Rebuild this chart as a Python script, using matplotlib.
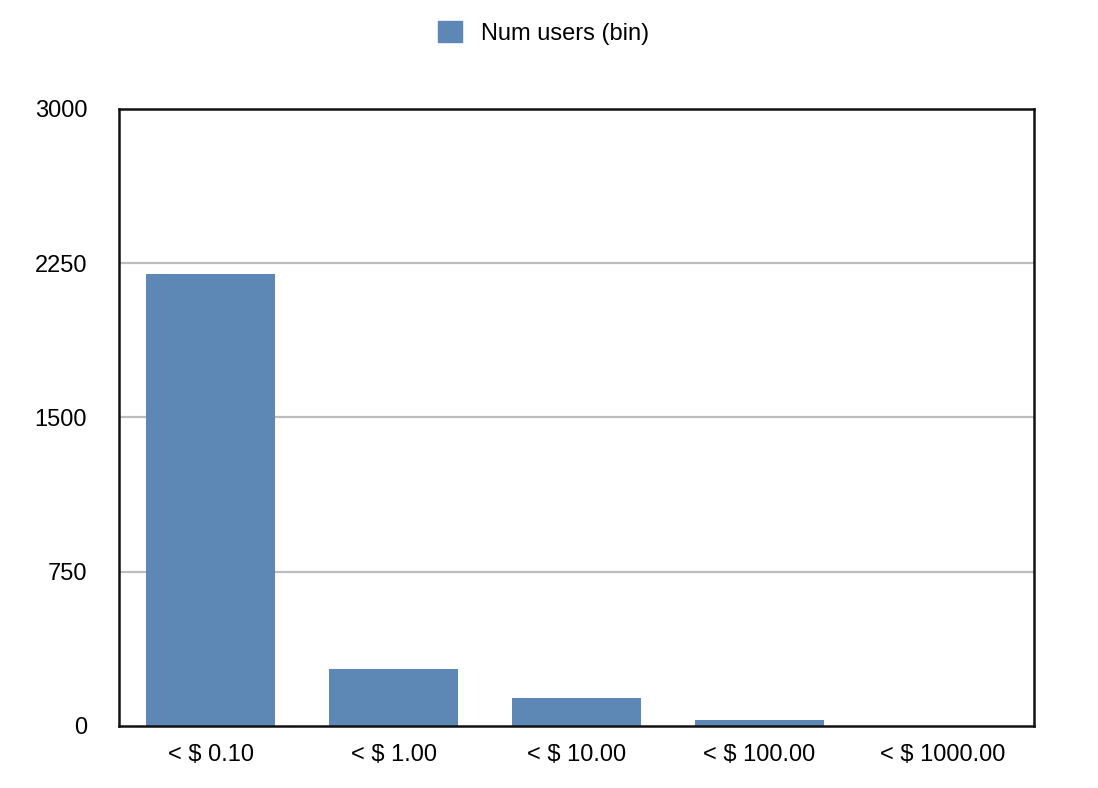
import matplotlib
matplotlib.use("Agg")
import matplotlib.pyplot as plt
from matplotlib.patches import Patch

# data
categories = ["< $ 0.10", "< $ 1.00", "< $ 10.00", "< $ 100.00", "< $ 1000.00"]
num_users = [2200, 276, 135, 28, 0]
y_ticks = [0, 750, 1500, 2250, 3000]

bar_color = "#5d87b4"

plt.rcParams["font.family"] = ["Liberation Sans", "DejaVu Sans"]

fig = plt.figure(figsize=(10.98, 7.88), dpi=100)
ax = fig.add_axes([0.1084, 0.0787, 0.8333, 0.783])

x = range(len(categories))
ax.bar(x, num_users, width=0.71, color=bar_color, zorder=2)

ax.set_xlim(-0.5, len(categories) - 0.5)
ax.set_ylim(0, 3000)
ax.set_xticks(list(x))
ax.set_xticklabels(categories, fontsize=17)
ax.set_yticks(y_ticks)
ax.set_yticklabels([str(t) for t in y_ticks], fontsize=17)
ax.tick_params(length=0)
ax.tick_params(axis="x", pad=13)
ax.tick_params(axis="y", pad=23)

for t in y_ticks[1:-1]:
    ax.axhline(t, color="#bdbdbd", linewidth=1.6, zorder=1)

for spine in ax.spines.values():
    spine.set_linewidth(1.8)
    spine.set_color("#111111")

fig.legend(handles=[Patch(color=bar_color, label="Num users (bin)")],
           loc="upper center", bbox_to_anchor=(0.495, 1.0), frameon=False,
           fontsize=17, handlelength=1.0, handleheight=1.0, handletextpad=0.8)

fig.savefig("out.png", dpi=100)
